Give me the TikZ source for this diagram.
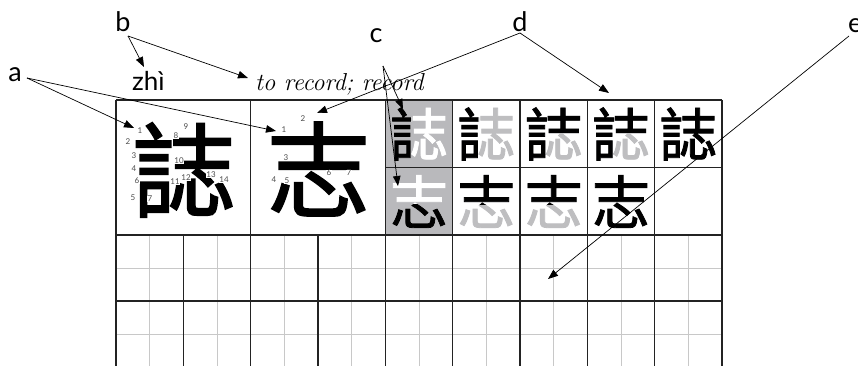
\documentclass[tikz,border=0pt]{standalone}
\usepackage{fontspec}
\newfontfamily\cjk[FakeBold=1.4]{Noto Sans CJK SC}
\newfontfamily\lab{Lato}
\usetikzlibrary{arrows.meta}
\definecolor{cellgray}{RGB}{185,185,188}
\definecolor{glyphgray}{RGB}{190,190,192}
\definecolor{gridline}{RGB}{35,35,35}
\definecolor{thingrid}{RGB}{200,200,200}
\begin{document}
\begin{tikzpicture}[x=1pt,y=-1pt,
  gthick/.style={draw=gridline,line width=1.2pt},
  gthin/.style={draw=thingrid,line width=0.7pt},
  arr/.style={-{Triangle[length=10pt,width=7.5pt]},line width=0.7pt,draw=black},
  lbl/.style={font=\lab\fontsize{27}{27}\selectfont,inner sep=0pt,anchor=base},
  bigch/.style={font=\cjk\fontsize{104}{104}\selectfont,inner sep=0pt},
  smch/.style={font=\cjk\fontsize{58}{58}\selectfont,inner sep=0pt},
  num/.style={font=\lab\fontsize{8}{8}\selectfont,inner sep=0.3pt,fill=white,text=black!70}]
\useasboundingbox (0,0) rectangle (858,366);
\fill[white] (0,0) rectangle (858,366);
% gray highlighted cells
\fill[cellgray] (385,100) rectangle (453,235);
% thin lines of lower grid
\foreach \k in {0,...,8} {
  \draw[gthin] ({116+(\k+0.5)*67.333},235) -- ({116+(\k+0.5)*67.333},366);
}
\draw[gthin] (116,268) -- (722,268);
\draw[gthin] (116,334) -- (722,334);
% thick lines of lower grid
\foreach \k in {0,...,9} {
  \draw[gthick] ({116+\k*67.333},235) -- ({116+\k*67.333},366);
}
\draw[gthick] (116,235) -- (722,235);
\draw[gthick] (116,301) -- (722,301);
% top row
\draw[gthick] (116,100) -- (722,100);
\draw[gthick] (116,100) -- (116,235);
\draw[gthick] (250.7,100) -- (250.7,235);
\draw[gthick] (385.3,100) -- (385.3,235);
\foreach \x in {452.7,520,587.3,654.7,722} {
  \draw[gthick] (\x,100) -- (\x,235);
}
\draw[gthick] (385.3,167.5) -- (722,167.5);
% big characters
\node[bigch] (big1) at (184,170) {誌};
\node[bigch] (big2) at (318.5,169) {志};
% stroke numbers
\node[num] (n1) at (140,131) {1};
\node[num] (n2) at (128,142) {2};
\node[num] (n3) at (134,156) {3};
\node[num] (n4) at (134,169) {4};
\node[num] (n5) at (133,198) {5};
\node[num] (n6) at (137,181) {6};
\node[num] (n7) at (150,199) {7};
\node[num] (n8) at (176,136) {8};
\node[num] (n9) at (186,127) {9};
\node[num] (n10) at (179,161) {10};
\node[num] (n11) at (175,182) {11};
\node[num] (n12) at (186,178) {12};
\node[num] (n13) at (211,175) {13};
\node[num] (n14) at (224,180) {14};
\node[num] (m1) at (284,130) {1};
\node[num] (m2) at (303,119) {2};
\node[num] (m3) at (286,158) {3};
\node[num] (m4) at (274,180) {4};
\node[num] (m5) at (287,181) {5};
\node[num] (m6) at (329,173) {6};
\node[num] (m7) at (349,173) {7};
% small characters, row 1
\node[smch,text=white] (s11) at (419,134) {誌};
\begin{scope}\clip (385,100) rectangle (411,168);
\node[smch,text=black] (s11b) at (419,134) {誌};\end{scope}
\node[smch,text=glyphgray] (s12) at (486.3,134) {誌};
\begin{scope}\clip (453,100) rectangle (478.3,168);
\node[smch,text=black] (s12b) at (486.3,134) {誌};\end{scope}
\node[smch,text=glyphgray] (s13) at (553.7,134) {誌};
\begin{scope}\clip (520,100) rectangle (545.7,168) (520,100) rectangle (588,133);
\node[smch,text=black] (s13b) at (553.7,134) {誌};\end{scope}
\node[smch,text=glyphgray] (s14) at (621,134) {誌};
\begin{scope}\clip (588,100) rectangle (613,168) (588,100) rectangle (655,133);
\node[smch,text=black] (s14b) at (621,134) {誌};\end{scope}
\node[smch,text=black] (s15) at (688.3,134) {誌};
% small characters, row 2
\node[smch,text=white] (s21) at (419,201.5) {志};
\begin{scope}\clip (385,204) rectangle (453,235);
\node[smch,text=black] (s21b) at (419,201.5) {志};\end{scope}
\node[smch,text=glyphgray] (s22) at (486.3,201.5) {志};
\begin{scope}\clip (453,168) rectangle (520,204);
\node[smch,text=black] (s22b) at (486.3,201.5) {志};\end{scope}
\node[smch,text=glyphgray] (s23) at (553.7,201.5) {志};
\begin{scope}\clip (520,168) rectangle (588,204);
\node[smch,text=black] (s23b) at (553.7,201.5) {志};\end{scope}
\node[smch,text=black] (s24) at (621,201.5) {志};
% texts
\node[font=\lab\fontsize{26}{26}\selectfont,inner sep=0pt,anchor=base west] (pinyin) at (132,91) {zhì};
\node[font=\itshape\fontsize{24.5}{24.5}\selectfont,inner sep=0pt,anchor=base west] (gloss) at (255,91) {to record; record};
\node[lbl] (la) at (15,82) {a};
\node[lbl] (lb) at (123,32) {b};
\node[lbl] (lc) at (376,43) {c};
\node[lbl] (ld) at (520,32) {d};
\node[lbl,anchor=base west] (le) at (848,33) {e};
% connector ends
\coordinate (a0) at (27,78);
\coordinate (a1t) at (134,128);
\coordinate (a2t) at (276,131);
\coordinate (b0) at (128,36);
\coordinate (b1t) at (144,67);
\coordinate (b2t) at (248,78);
\coordinate (c0) at (383,66);
\coordinate (c1t) at (403,109);
\coordinate (c2t) at (398,186);
\coordinate (d0) at (520,33);
\coordinate (d1t) at (317,113);
\coordinate (d2t) at (609,93);
\coordinate (e0) at (849,36);
\coordinate (e1t) at (548,279);
\draw[arr] (a0) -- (a1t);
\draw[arr] (a0) -- (a2t);
\draw[arr] (b0) -- (b1t);
\draw[arr] (b0) -- (b2t);
\draw[arr] (c0) -- (c1t);
\draw[arr] (c0) -- (c2t);
\draw[arr] (d0) -- (d1t);
\draw[arr] (d0) -- (d2t);
\draw[arr] (e0) -- (e1t);
\end{tikzpicture}
\end{document}
